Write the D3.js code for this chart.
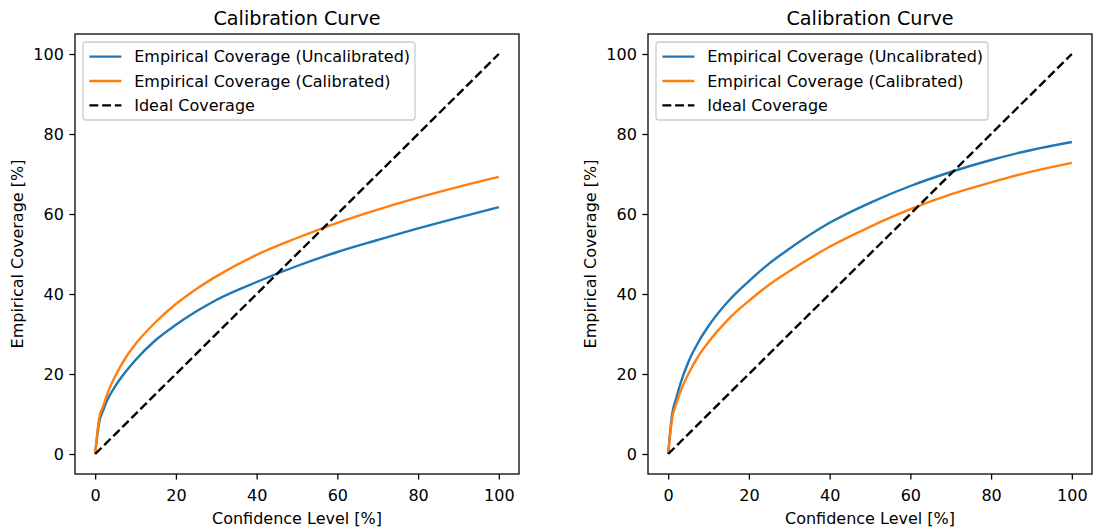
<!DOCTYPE html>
<html>
<head>
<meta charset="utf-8">
<script src="https://cdn.jsdelivr.net/npm/d3@7"></script>
<style>
  body { margin: 0; background: #fff; }
  text { font-family: "DejaVu Sans", sans-serif; fill: #000; }
</style>
</head>
<body>
<div id="chart"></div>
<script>
// confidence levels (x) shared by all series
const confidence = [0, 1, 2, 3, 5, 7.5, 10, 15, 20, 25, 30, 40, 50, 60, 70, 80, 90, 100];

// left panel
const leftUncalibrated = [0, 8, 11, 13.5, 17, 20.5, 23.5, 28.5, 32.3, 35.6, 38.5, 43, 47, 50.5, 53.5, 56.4, 59.1, 61.7];
const leftCalibrated   = [0, 9, 12, 15, 19.5, 24, 27.5, 33, 37.5, 41.2, 44.4, 49.8, 54, 57.8, 61.1, 64.1, 66.8, 69.3];

// right panel
const rightUncalibrated = [0, 10, 14, 17.5, 23, 28, 32, 38.3, 43.2, 47.6, 51.3, 57.8, 62.8, 67, 70.5, 73.5, 76, 78];
const rightCalibrated   = [0, 9, 12.5, 15.5, 20, 24.5, 28, 33.8, 38.3, 42.3, 45.7, 51.8, 56.8, 61.2, 64.9, 67.9, 70.6, 72.8];

const idealX = [0, 100];
const idealY = [0, 100];

const xTicks = [0, 20, 40, 60, 80, 100];
const yTicks = [0, 20, 40, 60, 80, 100];
const legendLabels = ["Empirical Coverage (Uncalibrated)", "Empirical Coverage (Calibrated)", "Ideal Coverage"];
const titleText = "Calibration Curve";
const xLabelText = "Confidence Level [%]";
const yLabelText = "Empirical Coverage [%]";

const colors = { uncal: "#1f77b4", cal: "#ff7f0e", ideal: "#000000" };

const width = 1097, height = 528;
const plotTop = 34, plotW = 444, plotH = 440;
const fontSize = 16;
const lineW = 2.4, spineW = 1.28, tickLen = 5.6;

const svg = d3.select("#chart").append("svg")
    .attr("width", width)
    .attr("height", height);

svg.append("rect").attr("width", width).attr("height", height).attr("fill", "#fff");

const panels = [
    { left: 75, uncal: leftUncalibrated, cal: leftCalibrated },
    { left: 648, uncal: rightUncalibrated, cal: rightCalibrated }
];

function drawPanel(p) {
    const g = svg.append("g").attr("transform", "translate(" + p.left + "," + plotTop + ")");

    const x = d3.scaleLinear().domain([-5, 105]).range([0, plotW]);
    const y = d3.scaleLinear().domain([-5, 105]).range([plotH, 0]);

    // x axis
    const xAxis = g.append("g")
        .attr("transform", "translate(0," + plotH + ")")
        .call(d3.axisBottom(x).tickValues(xTicks).tickSize(tickLen).tickSizeOuter(0).tickFormat(d3.format("d")));
    xAxis.select(".domain").remove();
    xAxis.selectAll("line").attr("stroke", "#000").attr("stroke-width", spineW);
    xAxis.selectAll("text").attr("dy", null).attr("y", 27)
        .style("font-size", fontSize + "px").style("font-family", "DejaVu Sans");

    // y axis
    const yAxis = g.append("g")
        .call(d3.axisLeft(y).tickValues(yTicks).tickSize(tickLen).tickPadding(5.6).tickSizeOuter(0).tickFormat(d3.format("d")));
    yAxis.select(".domain").remove();
    yAxis.selectAll("line").attr("stroke", "#000").attr("stroke-width", spineW);
    yAxis.selectAll("text").attr("dy", "0.36em")
        .style("font-size", fontSize + "px").style("font-family", "DejaVu Sans");

    const line = d3.line()
        .x((d, i) => x(confidence[i]))
        .y(d => y(d))
        .curve(d3.curveMonotoneX);

    g.append("path").datum(p.uncal)
        .attr("d", line)
        .attr("fill", "none").attr("stroke", colors.uncal).attr("stroke-width", lineW);

    g.append("path").datum(p.cal)
        .attr("d", line)
        .attr("fill", "none").attr("stroke", colors.cal).attr("stroke-width", lineW);

    g.append("path").datum(idealY)
        .attr("d", d3.line().x((d, i) => x(idealX[i])).y(d => y(d)))
        .attr("fill", "none").attr("stroke", colors.ideal).attr("stroke-width", lineW)
        .attr("stroke-dasharray", "8.9,3.84");

    // frame
    g.append("rect")
        .attr("width", plotW).attr("height", plotH)
        .attr("fill", "none").attr("stroke", "#000").attr("stroke-width", spineW);

    // title and labels
    g.append("text")
        .attr("x", plotW / 2).attr("y", 25 - plotTop)
        .attr("text-anchor", "middle")
        .style("font-size", "19.2px")
        .text(titleText);

    g.append("text")
        .attr("x", plotW / 2).attr("y", 524 - plotTop)
        .attr("text-anchor", "middle")
        .style("font-size", fontSize + "px")
        .text(xLabelText);

    g.append("text")
        .attr("transform", "translate(" + (23 - 75) + "," + (plotH / 2) + ") rotate(-90)")
        .attr("text-anchor", "middle")
        .style("font-size", fontSize + "px")
        .text(yLabelText);

    // legend
    const lg = g.append("g").attr("transform", "translate(8,8)");
    lg.append("rect")
        .attr("width", 332).attr("height", 78)
        .attr("rx", 3).attr("ry", 3)
        .attr("fill", "#fff").attr("fill-opacity", 0.8)
        .attr("stroke", "#cccccc").attr("stroke-width", spineW);

    const legendColors = [colors.uncal, colors.cal, colors.ideal];
    const entries = lg.selectAll(".entry")
        .data(legendLabels)
        .join("g")
        .attr("class", "entry")
        .attr("transform", (d, i) => "translate(0," + (14.6 + i * 24.4) + ")");

    entries.append("line")
        .attr("x1", 6.4).attr("x2", 38.4)
        .attr("stroke", (d, i) => legendColors[i])
        .attr("stroke-width", lineW)
        .attr("stroke-dasharray", (d, i) => i === 2 ? "8.9,3.84" : null);

    entries.append("text")
        .attr("x", 51.2).attr("dy", "0.36em")
        .style("font-size", fontSize + "px")
        .text(d => d);
}

panels.forEach(drawPanel);
</script>
</body>
</html>
